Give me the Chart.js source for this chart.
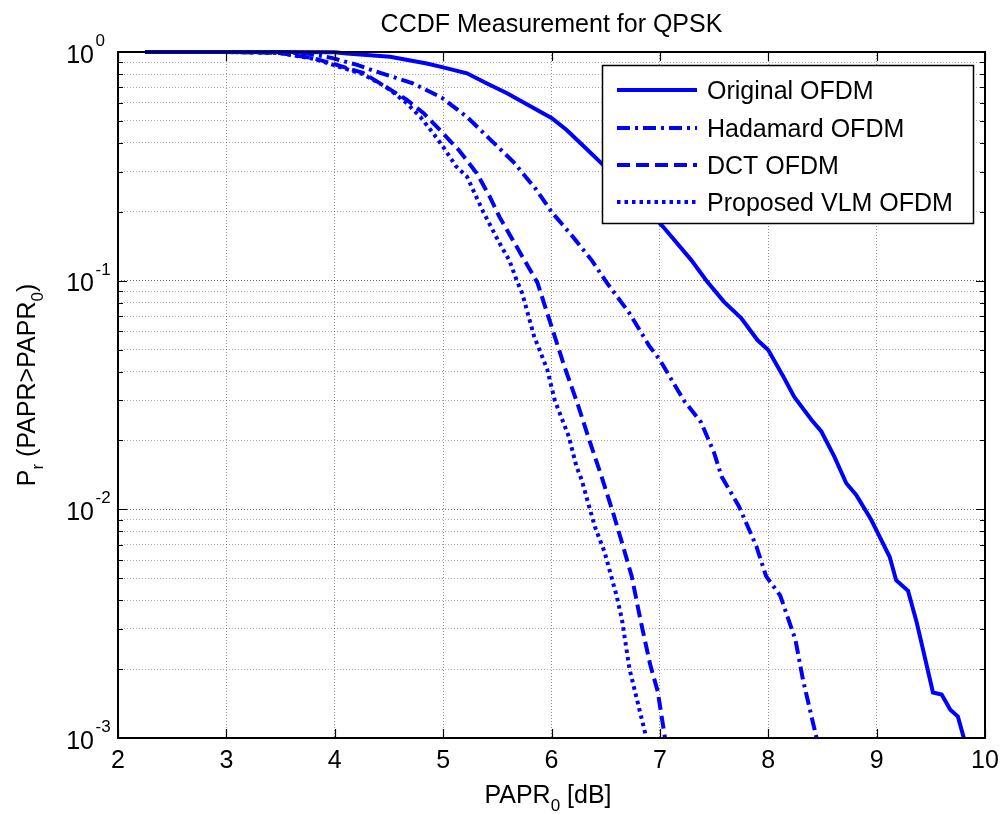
<!DOCTYPE html>
<html>
<head>
<meta charset="utf-8">
<script src="https://cdn.jsdelivr.net/npm/chart.js@4.4.1/dist/chart.umd.min.js"></script>
<style>
  html, body { margin: 0; padding: 0; background: #fff; }
  #wrap { width: 1002px; height: 814px; position: relative; }
</style>
</head>
<body>
<div id="wrap"><canvas id="ccdf" width="1002" height="814"></canvas></div>
<script>
// CCDF of PAPR for the four OFDM variants

const origX = [2.25, 3.0, 3.5, 4.0, 4.11, 4.51, 4.85, 5.0, 5.22, 5.4, 5.59, 5.83, 6.0, 6.14, 6.29, 6.45, 6.6, 6.8, 7.03, 7.29, 7.43, 7.59, 7.75, 7.9, 8.0, 8.14, 8.24, 8.4, 8.49, 8.61, 8.72, 8.81, 8.95, 9.12, 9.18, 9.29, 9.37, 9.45, 9.52, 9.6, 9.68, 9.75, 9.81];
const origY = [1, 1, 1, 0.998, 0.985, 0.953, 0.89, 0.857, 0.807, 0.73, 0.66, 0.57, 0.515, 0.456, 0.39, 0.33, 0.28, 0.224, 0.172, 0.123, 0.1, 0.081, 0.0686, 0.055, 0.0498, 0.038, 0.031, 0.0246, 0.0219, 0.017, 0.013, 0.0116, 0.009, 0.0062, 0.0049, 0.0044, 0.0032, 0.0022, 0.00158, 0.00155, 0.00133, 0.00124, 0.00098];

const hadX = [2.25, 3.0, 3.5, 3.75, 3.98, 4.2, 4.42, 4.72, 4.99, 5.22, 5.4, 5.65, 5.86, 6.0, 6.2, 6.37, 6.51, 6.72, 6.9, 7.0, 7.22, 7.38, 7.5, 7.57, 7.73, 7.89, 7.98, 8.11, 8.25, 8.32, 8.45];
const hadY = [1, 1, 0.998, 0.985, 0.94, 0.88, 0.81, 0.73, 0.63, 0.52, 0.43, 0.33, 0.25, 0.2, 0.155, 0.123, 0.098, 0.072, 0.052, 0.045, 0.03, 0.024, 0.0177, 0.0139, 0.0103, 0.0069, 0.0051, 0.0042, 0.0027, 0.0018, 0.00098];

const dctX = [2.25, 3.0, 3.49, 3.8, 3.98, 4.26, 4.48, 4.66, 4.82, 4.97, 5.15, 5.31, 5.43, 5.52, 5.75, 5.87, 6.01, 6.12, 6.24, 6.35, 6.46, 6.57, 6.66, 6.74, 6.82, 6.91, 6.98, 7.05];
const dctY = [1, 1, 0.99, 0.94, 0.89, 0.81, 0.7, 0.62, 0.54, 0.456, 0.37, 0.295, 0.233, 0.19, 0.123, 0.098, 0.061, 0.042, 0.029, 0.02, 0.014, 0.0096, 0.0069, 0.0051, 0.0033, 0.0021, 0.0016, 0.00098];

const vlmX = [2.25, 3.0, 3.49, 3.8, 3.98, 4.26, 4.48, 4.66, 4.79, 4.91, 5.0, 5.12, 5.22, 5.37, 5.52, 5.61, 5.68, 5.73, 5.84, 5.96, 6.03, 6.16, 6.23, 6.28, 6.33, 6.4, 6.49, 6.6, 6.65, 6.72, 6.8, 6.88];
const vlmY = [1, 1, 0.99, 0.935, 0.88, 0.8, 0.7, 0.6, 0.52, 0.44, 0.385, 0.316, 0.285, 0.2, 0.146, 0.123, 0.1, 0.088, 0.057, 0.041, 0.03, 0.0208, 0.0154, 0.0134, 0.011, 0.0084, 0.0065, 0.0042, 0.0033, 0.002, 0.0014, 0.00098];

const seriesLabels = ["Original OFDM", "Hadamard OFDM", "DCT OFDM", "Proposed VLM OFDM"];
const xTickValues = [2, 3, 4, 5, 6, 7, 8, 9, 10];
const yDecades = [1, 0.1, 0.01, 0.001];
const yMinorSteps = [2, 3, 4, 5, 6, 7, 8, 9];

const FONT = "'Liberation Sans', Arial, Helvetica, sans-serif";
const BLUE = "#0000ff";

const toPoints = (xs, ys) => xs.map((x, i) => ({ x, y: ys[i] }));

function lineDataset(label, xs, ys, dash) {
  return {
    label,
    data: toPoints(xs, ys),
    borderColor: BLUE,
    backgroundColor: BLUE,
    borderWidth: 4,
    borderDash: dash,
    borderCapStyle: "butt",
    pointRadius: 0,
    tension: 0,
    fill: false,
    clip: { left: 0, top: 3, right: 0, bottom: 0 },
  };
}

const isDecade = (v) => Math.abs(Math.log10(v) - Math.round(Math.log10(v))) < 1e-9;

// draws a run of [text, size, dy] pieces starting at x, returns end x
function drawPieces(ctx, pieces, x, y) {
  pieces.forEach(([text, size, dy]) => {
    ctx.font = `${size}px ${FONT}`;
    ctx.fillText(text, x, y + dy);
    x += ctx.measureText(text).width;
  });
  return x;
}

function piecesWidth(ctx, pieces) {
  return pieces.reduce((w, [text, size]) => {
    ctx.font = `${size}px ${FONT}`;
    return w + ctx.measureText(text).width;
  }, 0);
}

const matlabAxes = {
  id: "matlabAxes",
  afterDatasetsDraw(chart) {
    const { ctx, chartArea: a, scales } = chart;
    const xs = scales.x, ys = scales.y;
    ctx.save();

    // inward tick marks on all four sides
    ctx.strokeStyle = "#000";
    ctx.lineWidth = 1.2;
    ctx.beginPath();
    xTickValues.forEach((v) => {
      const px = Math.round(xs.getPixelForValue(v)) + 0.5;
      ctx.moveTo(px, a.bottom); ctx.lineTo(px, a.bottom - 9);
      ctx.moveTo(px, a.top); ctx.lineTo(px, a.top + 9);
    });
    ys.ticks.forEach((t) => {
      const py = Math.round(ys.getPixelForValue(t.value)) + 0.5;
      const len = isDecade(t.value) ? 9 : 5;
      ctx.moveTo(a.left, py); ctx.lineTo(a.left + len, py);
      ctx.moveTo(a.right, py); ctx.lineTo(a.right - len, py);
    });
    ctx.stroke();

    // axes box
    ctx.lineWidth = 2;
    ctx.strokeRect(a.left, a.top, a.right - a.left, a.bottom - a.top);

    // legend inside the plot
    const lg = { left: 602, top: 65, right: 973, bottom: 223 };
    ctx.fillStyle = "#fff";
    ctx.fillRect(lg.left, lg.top, lg.right - lg.left, lg.bottom - lg.top);
    ctx.lineWidth = 1.5;
    ctx.strokeStyle = "#000";
    ctx.strokeRect(lg.left + 0.5, lg.top + 0.5, lg.right - lg.left, lg.bottom - lg.top);
    const rowY = [90, 128, 165, 202];
    chart.data.datasets.forEach((ds, i) => {
      ctx.save();
      ctx.strokeStyle = ds.borderColor;
      ctx.lineWidth = ds.borderWidth;
      ctx.setLineDash(ds.borderDash || []);
      ctx.beginPath();
      ctx.moveTo(617, rowY[i]);
      ctx.lineTo(697, rowY[i]);
      ctx.stroke();
      ctx.restore();
      ctx.fillStyle = "#000";
      ctx.font = `25px ${FONT}`;
      ctx.textAlign = "left";
      ctx.textBaseline = "alphabetic";
      ctx.fillText(ds.label, 707, rowY[i] + 9);
    });

    ctx.fillStyle = "#000";
    ctx.textBaseline = "alphabetic";

    // x tick labels
    ctx.font = `25px ${FONT}`;
    ctx.textAlign = "center";
    xTickValues.forEach((v) => ctx.fillText(String(v), xs.getPixelForValue(v), 768));

    // y tick labels, 10 with superscript exponent
    yDecades.forEach((v) => {
      const py = ys.getPixelForValue(v);
      ctx.textAlign = "right";
      ctx.font = `25px ${FONT}`;
      ctx.fillText("10", 94, py + 10.5);
      ctx.textAlign = "left";
      ctx.font = `17px ${FONT}`;
      ctx.fillText(String(Math.round(Math.log10(v))), 95.5, py - 6);
    });

    // title
    ctx.textAlign = "center";
    ctx.font = `25px ${FONT}`;
    ctx.fillText("CCDF Measurement for QPSK", (a.left + a.right) / 2, 32);

    // x axis title
    ctx.textAlign = "left";
    const xTitle = [["PAPR", 25, 0], ["0", 17, 8], [" [dB]", 25, 0]];
    drawPieces(ctx, xTitle, 548 - piecesWidth(ctx, xTitle) / 2, 803);

    // y axis title, rotated
    const yTitle = [["P", 25, 0], ["r", 17, 8], [" (PAPR>PAPR", 25, 0], ["0", 17, 8], [")", 25, 0]];
    ctx.translate(35, 385);
    ctx.rotate(-Math.PI / 2);
    drawPieces(ctx, yTitle, -piecesWidth(ctx, yTitle) / 2, 0);

    ctx.restore();
  },
};

new Chart(document.getElementById("ccdf"), {
  type: "line",
  data: {
    datasets: [
      lineDataset(seriesLabels[0], origX, origY, []),
      lineDataset(seriesLabels[1], hadX, hadY, [13, 5, 3, 5]),
      lineDataset(seriesLabels[2], dctX, dctY, [13, 6]),
      lineDataset(seriesLabels[3], vlmX, vlmY, [3.5, 4]),
    ],
  },
  options: {
    responsive: false,
    animation: false,
    events: [],
    layout: { padding: { left: 0, right: 17, top: 52, bottom: 0 } },
    plugins: { legend: { display: false }, title: { display: false }, tooltip: { enabled: false } },
    scales: {
      x: {
        type: "linear",
        min: 2,
        max: 10,
        ticks: { stepSize: 1, display: false },
        afterBuildTicks: (scale) => { scale.ticks = xTickValues.map((value) => ({ value })); },
        afterFit: (scale) => { scale.height = 76; },
        grid: { color: "rgba(0,0,0,0.45)", lineWidth: 1, drawTicks: false },
        border: { display: false, dash: [1, 2] },
      },
      y: {
        type: "logarithmic",
        min: 0.001,
        max: 1,
        ticks: { display: false },
        afterBuildTicks: (scale) => {
          const ticks = [];
          yDecades.slice().reverse().forEach((d) => {
            ticks.push({ value: d });
            if (d < 1) yMinorSteps.forEach((m) => ticks.push({ value: +(d * m).toPrecision(6) }));
          });
          scale.ticks = ticks;
        },
        afterFit: (scale) => { scale.width = 118; },
        grid: {
          color: (c) => (c.tick && isDecade(c.tick.value) ? "rgba(0,0,0,0.6)" : "rgba(0,0,0,0.32)"),
          lineWidth: 1,
          drawTicks: false,
        },
        border: { display: false, dash: [1, 2] },
      },
    },
  },
  plugins: [matlabAxes],
});
</script>
</body>
</html>
